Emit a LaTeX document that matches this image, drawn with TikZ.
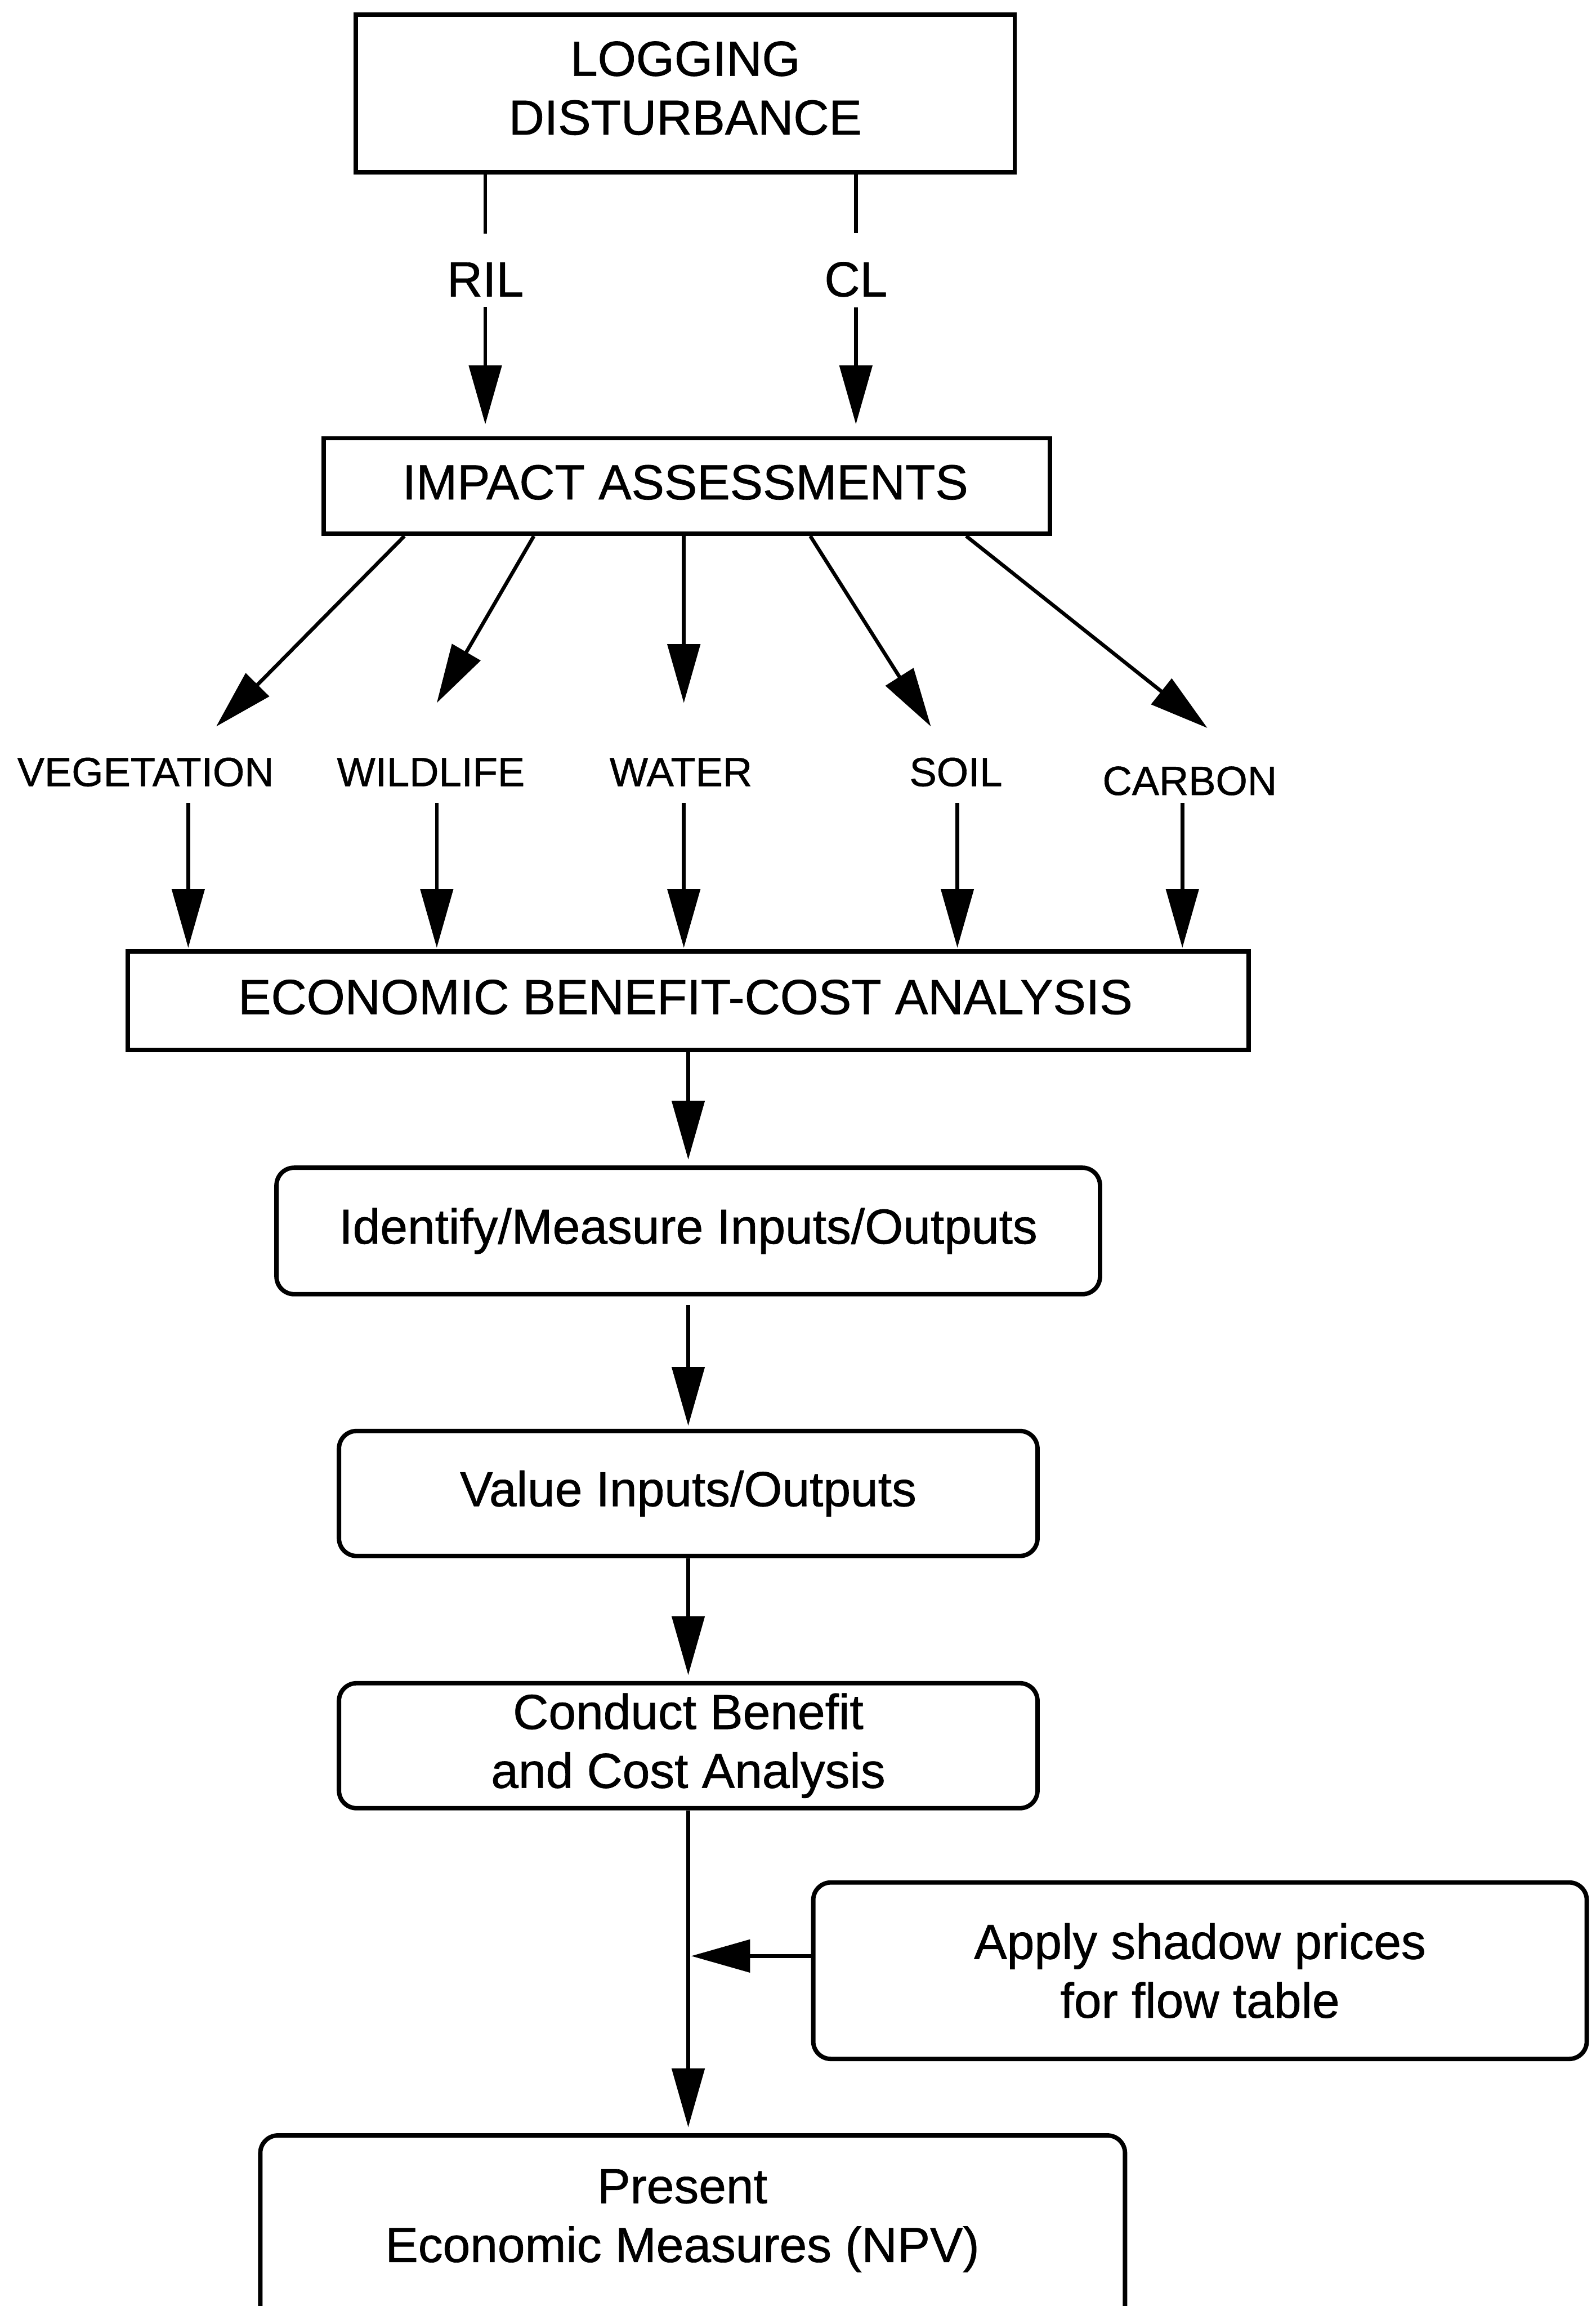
\documentclass[tikz,border=0pt]{standalone}
\usepackage{fontspec}
\setmainfont[FakeBold=0.8]{Liberation Sans}
\usetikzlibrary{arrows.meta,calc}
\begin{document}
\begin{tikzpicture}[x=1pt,y=-1pt,
  bigfont/.style={font=\fontsize{33.5}{40}\selectfont},
  sbox/.style={draw, line width=3pt, inner sep=0pt, align=center, bigfont},
  rbox/.style={sbox, rounded corners=12pt},
  lab/.style={inner sep=0pt, bigfont},
  small/.style={inner sep=0pt, font=\fontsize{27.7}{33}\selectfont},
  ln/.style={line width=2.5pt},
  arr/.style={line width=2.5pt, -{Triangle[length=40pt,width=22pt]}}]
\fill[white] (0,0) rectangle (1085,1568);
\clip (0,0) rectangle (1085,1568);

% boxes
\node[sbox, minimum width=448pt, minimum height=107pt] (log) at (466,63.5) {};
\node[lab, align=center] (logtxt) at (466,60) {LOGGING\\DISTURBANCE};
\node[lab] (ril) at (330,190) {RIL};
\node[lab] (cl) at (582,190) {CL};
\node[sbox, minimum width=494pt, minimum height=65pt] (impact) at (467,330.5) {};
\node[lab] (impacttxt) at (466,328) {IMPACT ASSESSMENTS};

\node[small] (veg) at (99,525) {VEGETATION};
\node[small] (wild) at (293,525) {WILDLIFE};
\node[small] (water) at (463,525) {WATER};
\node[small] (soil) at (650,525) {SOIL};
\node[small] (carbon) at (809,531) {CARBON};

\node[sbox, minimum width=762pt, minimum height=67pt] (ebca) at (468,680.5) {};
\node[lab] (ebcatxt) at (466,678) {ECONOMIC BENEFIT-COST ANALYSIS};
\node[rbox, minimum width=560pt, minimum height=86pt] (ident) at (468,837) {Identify/Measure Inputs/Outputs};
\node[rbox, minimum width=475pt, minimum height=85pt] (value) at (468,1015.5) {Value Inputs/Outputs};
\node[rbox, minimum width=475pt, minimum height=85pt] (conduct) at (468,1187) {Conduct Benefit\\and Cost Analysis};
\node[rbox, minimum width=526pt, minimum height=120pt] (apply) at (816,1340) {Apply shadow prices\\for flow table};
\node[rbox, minimum width=588pt, minimum height=168pt] (present) at (471,1536) {};
\node[lab, align=center] (presenttxt) at (464,1510) {Present\\Economic Measures (NPV)};

% logging -> impact
\draw[ln] (log.south -| ril) -- ([yshift=19.5pt]ril.north);
\draw[arr] ([yshift=-7pt]ril.south) -- ([yshift=8pt]impact.north -| ril);
\draw[ln] (log.south -| cl) -- ([yshift=19.5pt]cl.north);
\draw[arr] ([yshift=-7pt]cl.south) -- ([yshift=8pt]impact.north -| cl);

% impact -> categories
\coordinate (vegtip) at (147,494);
\coordinate (wildtip) at (297,478);
\coordinate (watertip) at (465,478);
\coordinate (soiltip) at (633,494);
\coordinate (carbontip) at (821,495);
\draw[arr] ([xshift=-192pt]impact.south) -- (vegtip);
\draw[arr] ([xshift=-104pt]impact.south) -- (wildtip);
\draw[arr] ([xshift=-2pt]impact.south) -- (watertip);
\draw[arr] ([xshift=84pt]impact.south) -- (soiltip);
\draw[arr] ([xshift=190pt]impact.south) -- (carbontip);

% categories -> EBCA
\coordinate (vegout) at (128,546);
\coordinate (wildout) at (297,546);
\coordinate (waterout) at (465,546);
\coordinate (soilout) at (651,546);
\coordinate (carbonout) at (804,546);
\foreach \c in {vegout,wildout,waterout,soilout,carbonout}
  \draw[arr] (\c) -- ([yshift=1pt]\c |- ebca.north);

% main column
\draw[arr] (ebca.south) -- ([yshift=4pt]ident.north);
\draw[arr] ([yshift=-6pt]ident.south) -- ([yshift=2pt]value.north);
\draw[arr] (value.south) -- ([yshift=4pt]conduct.north);
\draw[arr] (conduct.south) -- ([yshift=4pt]conduct.south |- present.north);
\coordinate (join) at (468,1330);
\draw[arr] (apply.west |- join) -- ([xshift=2pt]join);
\end{tikzpicture}
\end{document}
